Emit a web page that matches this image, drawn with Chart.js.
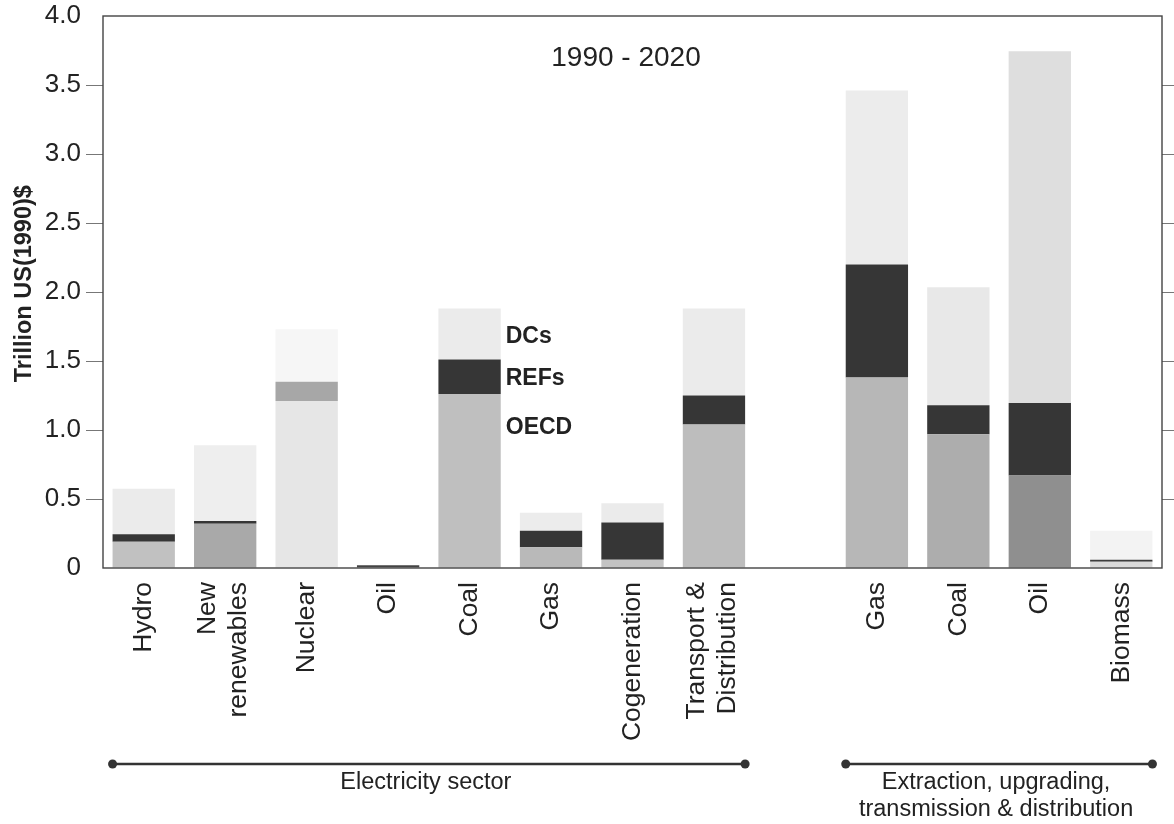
<!DOCTYPE html>
<html>
<head>
<meta charset="utf-8">
<script src="https://cdn.jsdelivr.net/npm/chart.js@4.4.1/dist/chart.umd.min.js"></script>
<style>
  html, body { margin: 0; padding: 0; background: #fff; }
  #wrap { width: 1174px; height: 824px; }
</style>
</head>
<body>
<div id="wrap"><canvas id="c" width="1174" height="824"></canvas></div>
<script>
// Investment requirements by technology and region, 1990 - 2020
const categories = [
  ['Hydro'], ['New', 'renewables'], ['Nuclear'], ['Oil'], ['Coal'], ['Gas'],
  ['Cogeneration'], ['Transport &', 'Distribution'], [''],
  ['Gas'], ['Coal'], ['Oil'], ['Biomass']
];
const oecd = [0.19, 0.32, 1.21, 0.005, 1.26, 0.15, 0.06, 1.04, null, 1.38, 0.97, 0.67, 0.045];
const refs = [0.055, 0.02, 0.14, 0.015, 0.25, 0.12, 0.27, 0.21, null, 0.82, 0.21, 0.525, 0.015];
const dcs  = [0.33, 0.55, 0.38, 0.0, 0.37, 0.13, 0.14, 0.63, null, 1.26, 0.855, 2.55, 0.21];
const yTickValues = [0, 0.5, 1, 1.5, 2, 2.5, 3, 3.5, 4];

const oecdColors = ['#c1c1c1', '#a9a9a9', '#e6e6e6', '#555555', '#bfbfbf', '#b9b9b9', '#c3c3c3', '#bdbdbd', '#fff',
                    '#b7b7b7', '#adadad', '#8f8f8f', '#d9d9d9'];
const refColors  = ['#363636', '#363636', '#a7a7a7', '#444444', '#363636', '#363636', '#363636', '#363636', '#fff',
                    '#363636', '#363636', '#363636', '#3c3c3c'];
const dcColors   = ['#ebebeb', '#eeeeee', '#f6f6f6', '#eeeeee', '#ebebeb', '#ececec', '#ebebeb', '#ebebeb', '#fff',
                    '#ececec', '#e8e8e8', '#dedede', '#f3f3f3'];

const FONT = "'Liberation Sans', Arial, Helvetica, sans-serif";
const INK = '#222';

const hideEnds = (ctx) => (ctx.tick && (ctx.tick.value === 0 || ctx.tick.value === 4)) ? 'rgba(0,0,0,0)' : '#777';

const decorations = {
  id: 'decorations',
  afterDatasetsDraw(chart) {
    const { ctx, chartArea: a } = chart;
    ctx.save();
    // plot frame
    ctx.strokeStyle = '#444';
    ctx.lineWidth = 1.4;
    ctx.strokeRect(a.left, a.top, a.right - a.left, a.bottom - a.top);
    ctx.restore();
  },
  afterDraw(chart) {
    const { ctx, chartArea: a, scales: { x, y } } = chart;
    const meta = chart.getDatasetMeta(0);
    const bar = (i) => meta.data[i];
    ctx.save();
    ctx.fillStyle = INK;

    // value axis title
    ctx.save();
    ctx.font = `bold 23.5px ${FONT}`;
    ctx.textAlign = 'center';
    ctx.textBaseline = 'middle';
    ctx.translate(25, y.getPixelForValue(2.06));
    ctx.rotate(-Math.PI / 2);
    ctx.fillText('Trillion US(1990)$', 0, 0);
    ctx.restore();

    // category names, read upwards, ending just below the axis
    ctx.font = `26.5px ${FONT}`;
    ctx.textAlign = 'right';
    ctx.textBaseline = 'middle';
    const lineGap = 31;
    categories.forEach((lines, i) => {
      const cx = x.getPixelForValue(i);
      lines.forEach((t, k) => {
        const lx = cx + (k - (lines.length - 1) / 2) * lineGap - (lines.length > 1 ? 2 : 0);
        ctx.save();
        ctx.translate(lx, a.bottom + 14);
        ctx.rotate(-Math.PI / 2);
        ctx.fillText(t, 0, 0);
        ctx.restore();
      });
    });

    // period heading
    ctx.font = `28px ${FONT}`;
    ctx.textAlign = 'center';
    ctx.textBaseline = 'middle';
    ctx.fillText('1990 - 2020', a.left + 523, a.top + 42);

    // region key beside the electricity coal bar
    const coal = bar(4);
    const kx = coal.x + coal.width / 2 + 5;
    ctx.font = `bold 23px ${FONT}`;
    ctx.textAlign = 'left';
    ctx.fillText('DCs', kx, y.getPixelForValue(1.68));
    ctx.fillText('REFs', kx, y.getPixelForValue(1.37));
    ctx.fillText('OECD', kx, y.getPixelForValue(1.02));

    // sector brackets
    const bracket = (i0, i1, lines) => {
      const x0 = bar(i0).x - bar(i0).width / 2;
      const x1 = bar(i1).x + bar(i1).width / 2;
      const ly = a.bottom + 196;
      ctx.strokeStyle = '#333';
      ctx.lineWidth = 2.5;
      ctx.beginPath();
      ctx.moveTo(x0, ly);
      ctx.lineTo(x1, ly);
      ctx.stroke();
      ctx.fillStyle = '#333';
      [x0, x1].forEach(px => { ctx.beginPath(); ctx.arc(px, ly, 4.5, 0, Math.PI * 2); ctx.fill(); });
      ctx.fillStyle = INK;
      ctx.font = `23.5px ${FONT}`;
      ctx.textAlign = 'center';
      ctx.textBaseline = 'middle';
      lines.forEach((t, k) => ctx.fillText(t, (x0 + x1) / 2 - 3, a.bottom + 215 + k * 27));
    };
    bracket(0, 7, ['Electricity sector']);
    bracket(9, 12, ['Extraction, upgrading,', 'transmission & distribution']);
    ctx.restore();
  }
};

new Chart(document.getElementById('c'), {
  type: 'bar',
  data: {
    labels: categories,
    datasets: [
      { label: 'OECD', data: oecd, backgroundColor: oecdColors, stack: 's' },
      { label: 'REFs', data: refs, backgroundColor: refColors, stack: 's' },
      { label: 'DCs', data: dcs, backgroundColor: dcColors, stack: 's' }
    ]
  },
  options: {
    responsive: false,
    animation: false,
    layout: { padding: { top: 16, left: 0, right: 0, bottom: 0 } },
    datasets: { bar: { categoryPercentage: 1, barPercentage: 0.765, borderWidth: 0 } },
    plugins: { legend: { display: false }, tooltip: { enabled: false } },
    scales: {
      x: {
        stacked: true,
        grid: { display: false, drawTicks: false },
        border: { display: false },
        ticks: { display: false },
        afterFit(s) { s.height = 256; }
      },
      y: {
        stacked: true, min: 0, max: 4, position: 'left',
        border: { display: false },
        grid: { drawOnChartArea: false, drawTicks: true, tickLength: 17, color: hideEnds },
        afterBuildTicks(s) { s.ticks = yTickValues.map(v => ({ value: v })); },
        ticks: {
          padding: 5, color: INK, font: { family: FONT, size: 26, lineHeight: 0.6 },
          callback: v => v === 0 ? '0' : v.toFixed(1)
        },
        afterFit(s) { s.width = 103; }
      },
      y2: {
        min: 0, max: 4, position: 'right',
        border: { display: false },
        grid: { drawOnChartArea: false, drawTicks: true, tickLength: 12, color: hideEnds },
        afterBuildTicks(s) { s.ticks = yTickValues.map(v => ({ value: v })); },
        ticks: { display: false },
        afterFit(s) { s.width = 12; }
      }
    }
  },
  plugins: [decorations]
});
</script>
</body>
</html>
